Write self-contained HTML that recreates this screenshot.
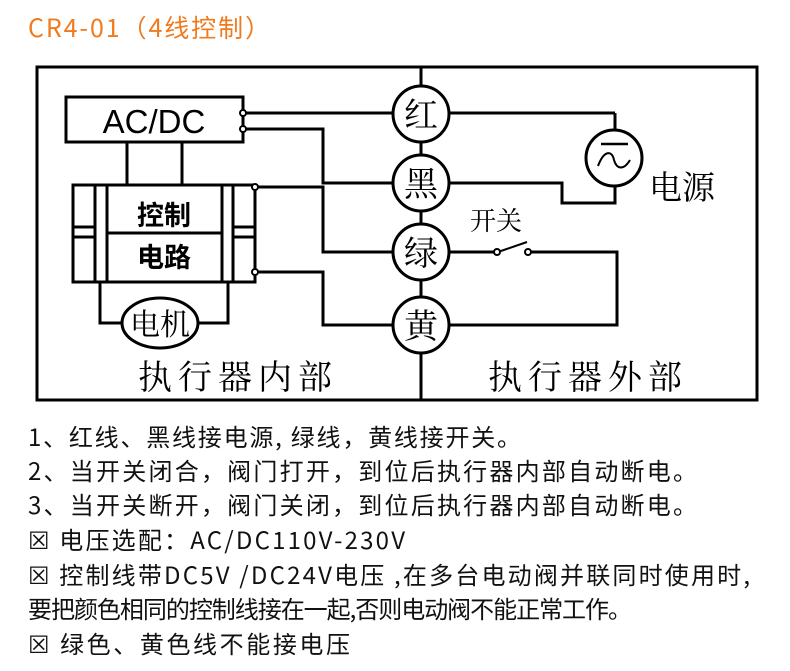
<!DOCTYPE html>
<html><head><meta charset="utf-8"><style>
html,body{margin:0;padding:0;background:#fff;}
svg{display:block}
text{font-family:"Liberation Sans","Noto Sans CJK SC",sans-serif;}
.s{font-family:"Noto Serif CJK SC","Liberation Serif",serif;}
.b{font-family:"Noto Sans CJK SC","Liberation Sans",sans-serif;}
</style></head><body>
<svg width="790" height="671" viewBox="0 0 790 671" xmlns="http://www.w3.org/2000/svg">
<text class="b" x="28" y="37" font-size="25" fill="#f07a1e" textLength="242">CR4-01（4线控制）</text>
<g fill="none" stroke="#000" stroke-width="3">
<rect x="37" y="67" width="720" height="333"/>
<line x1="421" y1="67" x2="421" y2="400"/>
<rect x="66" y="97" width="177" height="45"/>
<line x1="127" y1="142" x2="127" y2="185"/>
<line x1="182" y1="142" x2="182" y2="185"/>
<rect x="73" y="185" width="182" height="97"/>
<line x1="95" y1="185" x2="95" y2="282"/>
<line x1="107" y1="185" x2="107" y2="282"/>
<line x1="222" y1="185" x2="222" y2="282"/>
<line x1="233" y1="185" x2="233" y2="282"/>
<line x1="107" y1="233" x2="222" y2="233"/>
<line x1="73" y1="227" x2="95" y2="227"/><line x1="73" y1="237" x2="95" y2="237"/>
<line x1="233" y1="227" x2="255" y2="227"/><line x1="233" y1="237" x2="255" y2="237"/>
<polyline points="100,282 100,323 122,323"/>
<polyline points="228,282 228,323 198,323"/>
<ellipse cx="160" cy="323" rx="38" ry="25"/>
<line x1="243" y1="113" x2="393" y2="113"/>
<polyline points="243,129 323,129 323,183 393,183"/>
<polyline points="255,187 323,187 323,252 393,252"/>
<polyline points="255,272 323,272 323,325 393,325"/>
<line x1="449" y1="113" x2="615" y2="113"/>
<line x1="615" y1="113" x2="615" y2="130"/>
<polyline points="449,183 562,183 562,203 615,203 615,186"/>
<circle cx="614" cy="158" r="28"/>
<polyline points="449,252 495,252"/>
<line x1="498" y1="252" x2="527" y2="242" stroke-width="2"/>
<polyline points="529,252 617,252 617,325 449,325"/>
<circle cx="421" cy="114" r="28" fill="#fff"/>
<circle cx="421" cy="183" r="28" fill="#fff"/>
<circle cx="421" cy="252" r="28" fill="#fff"/>
<circle cx="421" cy="325" r="28" fill="#fff"/>
</g>
<g fill="#fff" stroke="#000" stroke-width="2">
<circle cx="243" cy="113" r="3"/><circle cx="243" cy="129" r="3"/>
<circle cx="255" cy="187" r="3"/><circle cx="255" cy="272" r="3"/>
<circle cx="497" cy="252" r="3"/><circle cx="528" cy="252" r="3"/>
</g>
<line x1="601" y1="144" x2="628" y2="144" stroke="#000" stroke-width="2.5"/>
<path d="M598,166 C604,150 612,150 614,160 C617,170 624,170 630,160" fill="none" stroke="#000" stroke-width="2"/>
<text x="154" y="133" font-size="33" text-anchor="middle">AC/DC</text>
<text class="b" x="164" y="225" font-size="27" text-anchor="middle" font-weight="bold">控制</text>
<text class="b" x="164" y="267" font-size="27" text-anchor="middle" font-weight="bold">电路</text>
<text class="s" x="160" y="335" font-size="30" text-anchor="middle">电机</text>
<text class="s" x="421" y="127" font-size="34" text-anchor="middle">红</text>
<text class="s" x="421" y="196" font-size="34" text-anchor="middle">黑</text>
<text class="s" x="421" y="265" font-size="34" text-anchor="middle">绿</text>
<text class="s" x="421" y="338" font-size="34" text-anchor="middle">黄</text>
<text class="s" x="649" y="199" font-size="33">电源</text>
<text class="s" x="470" y="230" font-size="26">开关</text>
<text class="s" x="138" y="389" font-size="34" textLength="194">执行器内部</text>
<text class="s" x="488" y="389" font-size="34" textLength="194">执行器外部</text>
<g class="b" font-size="24" fill="#111">
<text class="b" x="28" y="446" textLength="493">1、红线、黑线接电源, 绿线，黄线接开关。</text>
<text class="b" x="28" y="480" textLength="669">2、当开关闭合，阀门打开，到位后执行器内部自动断电。</text>
<text class="b" x="28" y="514" textLength="669">3、当开关断开，阀门关闭，到位后执行器内部自动断电。</text>
<text class="b" x="28" y="549" textLength="377">☒ 电压选配：AC/DC110V-230V</text>
<text class="b" x="28" y="584" textLength="722">☒ 控制线带DC5V /DC24V电压 ,在多台电动阀并联同时使用时,</text>
<text class="b" x="28" y="618" textLength="604">要把颜色相同的控制线接在一起,否则电动阀不能正常工作。</text>
<text class="b" x="28" y="653" textLength="322">☒ 绿色、黄色线不能接电压</text>
</g>
</svg>
</body></html>
